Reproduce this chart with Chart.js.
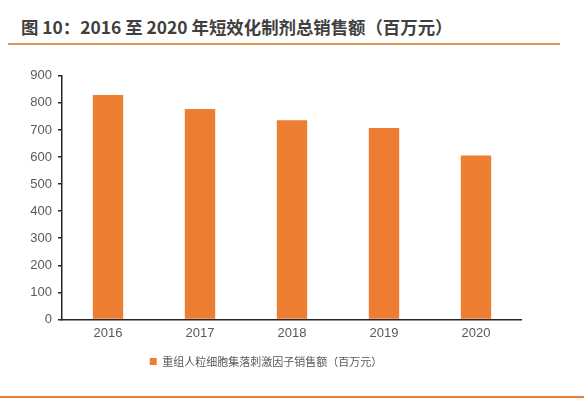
<!DOCTYPE html>
<html>
<head>
<meta charset="utf-8">
<script src="https://cdn.jsdelivr.net/npm/chart.js@4"></script>
<style>
  body { margin: 0; background: #fff; width: 584px; height: 408px; position: relative; overflow: hidden; }
  #title { position: absolute; left: 21px; top: 14px; font: bold 17.4px "Noto Sans CJK SC", sans-serif; color: #404040; white-space: nowrap; }
  #topline { position: absolute; left: 8px; top: 43px; width: 552px; height: 2px; background: #DE9355; }
  #bottomline { position: absolute; left: 0; top: 396px; width: 584px; height: 2px; background: #ED7D31; }
  #wrap { position: absolute; left: 10px; top: 62px; width: 512px; height: 315px; }
</style>
</head>
<body>
<div id="title">图 10：2016 至 2020 年短效化制剂总销售额（百万元）</div>
<div id="topline"></div>
<div id="wrap"><canvas id="chart"></canvas></div>
<div id="bottomline"></div>
<script>
// categories and values
const years = ["2016", "2017", "2018", "2019", "2020"];
const sales = [829, 777, 736, 707, 606];
const seriesName = "重组人粒细胞集落刺激因子销售额（百万元）";
const yTicks = [0, 100, 200, 300, 400, 500, 600, 700, 800, 900];

const ctx = document.getElementById("chart").getContext("2d");
new Chart(ctx, {
  type: "bar",
  data: {
    labels: years,
    datasets: [
      {
        label: seriesName,
        data: sales,
        backgroundColor: "#ED7D31",
        barPercentage: 0.33,
        categoryPercentage: 1,
      },
    ],
  },
  options: {
    responsive: true,
    maintainAspectRatio: false,
    animation: false,
    layout: { padding: { left: 0, right: 0, top: 8, bottom: 0 } },
    plugins: {
      tooltip: { enabled: false },
      legend: {
        position: "bottom",
        labels: {
          boxWidth: 7,
          boxHeight: 7,
          color: "#595959",
          font: { family: "'Noto Sans CJK SC', sans-serif", size: 11 },
          padding: 9,
        },
      },
    },
    scales: {
      x: {
        grid: { display: false, drawTicks: false },
        border: { color: "#262626", width: 1.5 },
        ticks: { color: "#595959", font: { family: "'Liberation Sans', Arial", size: 13 }, padding: 6 },
      },
      y: {
        min: 0,
        max: 900,
        afterFit: (axis) => { axis.width = 52; },
        afterBuildTicks: (axis) => { axis.ticks = yTicks.map((v) => ({ value: v })); },
        grid: { drawOnChartArea: false, tickLength: 4, color: "#262626", lineWidth: 1.5 },
        border: { color: "#262626", width: 1.5 },
        ticks: { color: "#595959", font: { family: "'Liberation Sans', Arial", size: 13 }, padding: 6 },
      },
    },
  },
});
</script>
</body>
</html>
